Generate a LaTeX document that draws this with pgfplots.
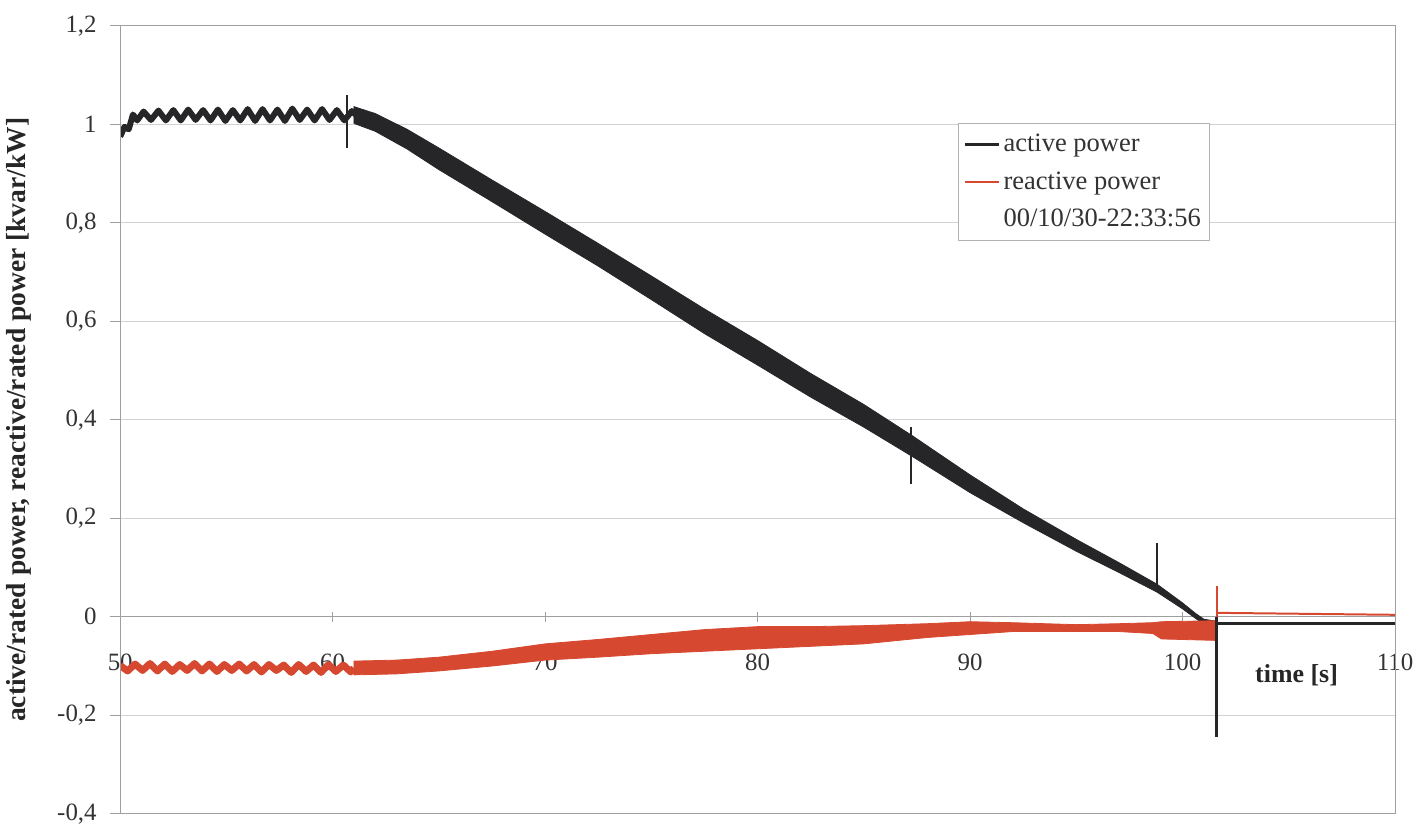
\documentclass[border=0pt]{standalone}
\usepackage{fontspec}
\setmainfont{Liberation Serif}
\usepackage{pgfplots}
\pgfplotsset{compat=1.18}
\definecolor{act}{RGB}{38,38,40}
\definecolor{rea}{RGB}{214,72,48}
\begin{document}
\begin{tikzpicture}
\path (-57.5pt,-6pt) rectangle (654pt,408.5pt);
\begin{axis}[
  at={(0,0)}, anchor=south west,
  scale only axis, width=640pt, height=395.5pt,
  xmin=50, xmax=110, ymin=-0.4, ymax=1.2,
  axis x line=middle, axis y line=left,
  axis line style={gray!75, -, line width=0.6pt},
  hide obscured x ticks=false, hide obscured y ticks=false,
  xtick={50,60,70,80,90,100,110},
  ytick={-0.4,-0.2,0,0.2,0.4,0.6,0.8,1,1.2},
  xtick align=center, ytick align=outside,
  major tick length=5pt,
  tick style={gray!75, line width=0.6pt},
  ymajorgrids, major grid style={gray!35, line width=0.6pt},
  /pgf/number format/use comma,
  /pgf/number format/assume math mode=true,
  tick label style={font=\fontsize{12.5}{14}\selectfont, text=black!80},
  xticklabel style={anchor=center, yshift=-20.5pt},
  yticklabel style={xshift=-3.3pt},
  xlabel={time [s]},
  xlabel style={font=\bfseries\fontsize{13}{15}\selectfont, at={(axis description cs:0.9227,0.1757)}, anchor=center, text=black!85},
  ylabel={active/rated power, reactive/rated power [kvar/kW]},
  ylabel style={font=\bfseries\fontsize{13.8}{16}\selectfont, at={(axis description cs:-0.0793,0.5)}, anchor=center, text=black!85},
  legend style={at={(axis description cs:0.657,0.877)}, anchor=north west, draw=gray!60, fill=white,
    font=\fontsize{13.3}{15}\selectfont, text=black!80, nodes={inner sep=1.5pt}, row sep=5.5pt, inner xsep=3pt, inner ysep=4pt},
  legend cell align=left,
  after end axis/.code={\draw[gray!75, line width=0.6pt] (rel axis cs:0,0) rectangle (rel axis cs:1,1);},
]
\addlegendimage{act, line width=1.2pt}
\addlegendentry{active power}
\addlegendimage{rea, line width=0.9pt}
\addlegendentry{reactive power}
\addlegendimage{empty legend}
\addlegendentry{00/10/30-22:33:56}

% active power: plateau
\addplot[act, line width=3pt, line join=round, forget plot] coordinates {
(50.0,0.975) (50.2,0.995) (50.4,0.99) (50.6,1.02) (50.8,1.008) (51.1,1.026) (51.45,1.009)
(51.8,1.028) (52.15,1.008) (52.5,1.029) (52.85,1.008) (53.2,1.03) (53.55,1.009) (53.9,1.029)
(54.25,1.008) (54.6,1.03) (54.95,1.007) (55.3,1.029) (55.65,1.008) (56.0,1.031) (56.35,1.007)
(56.7,1.031) (57.05,1.008) (57.4,1.03) (57.75,1.007) (58.1,1.032) (58.45,1.009) (58.8,1.03)
(59.15,1.008) (59.5,1.031) (59.85,1.009) (60.2,1.029) (60.55,1.008) (60.9,1.027) (61.2,1.015)
};
% active power: decline band
\addplot[act, fill=act, line width=0.4pt, forget plot] coordinates {
(61.0,1.036) (62.0,1.022) (63.5,0.99) (65.0,0.952) (67.5,0.887) (70.0,0.823) (72.5,0.758)
(75.0,0.692) (77.5,0.625) (80.0,0.561) (82.5,0.494) (85.0,0.431) (87.3,0.367) (90.0,0.288)
(92.5,0.219) (95.0,0.157) (97.0,0.11) (98.8,0.066) (100.0,0.028) (100.6,0.007) (101.0,-0.005)
(101.6,-0.009)
(101.6,-0.019) (101.0,-0.015) (100.6,-0.003) (100.0,0.016) (98.8,0.05) (97.0,0.09) (95.0,0.133)
(92.5,0.191) (90.0,0.252) (87.3,0.325) (85.0,0.385) (82.5,0.446) (80.0,0.511) (77.5,0.575)
(75.0,0.644) (72.5,0.712) (70.0,0.777) (67.5,0.843) (65.0,0.908) (63.5,0.95) (62.0,0.986)
(61.0,1.002)
} -- cycle;
% active power: flat end
\addplot[act, line width=1.5pt, forget plot] coordinates {(101.6,-0.014) (110,-0.014)};

% reactive power: plateau
\addplot[rea, line width=3.5pt, line join=round, forget plot] coordinates {
(50.0,-0.099) (50.35,-0.11) (50.7,-0.096) (51.05,-0.109) (51.4,-0.095) (51.75,-0.11)
(52.1,-0.096) (52.45,-0.111) (52.8,-0.097) (53.15,-0.109) (53.5,-0.095) (53.85,-0.11)
(54.2,-0.096) (54.55,-0.111) (54.9,-0.097) (55.25,-0.109) (55.6,-0.096) (55.95,-0.11)
(56.3,-0.097) (56.65,-0.112) (57.0,-0.097) (57.35,-0.109) (57.7,-0.098) (58.05,-0.113)
(58.4,-0.097) (58.75,-0.111) (59.1,-0.098) (59.45,-0.113) (59.8,-0.097) (60.15,-0.111)
(60.5,-0.098) (60.85,-0.112) (61.0,-0.104)
};
% reactive power: band
\addplot[rea, fill=rea, line width=0.4pt, forget plot] coordinates {
(61.0,-0.09) (63.0,-0.088) (65.0,-0.082) (67.5,-0.07) (70.0,-0.055) (72.5,-0.046) (75.0,-0.036)
(77.5,-0.026) (80.0,-0.02) (82.5,-0.02) (85.0,-0.018) (88.0,-0.014) (90.0,-0.01) (92.0,-0.012)
(95.0,-0.016) (97.0,-0.014) (98.6,-0.012) (99.0,-0.01) (101.6,-0.008)
(101.6,-0.048) (99.0,-0.045) (98.6,-0.034) (97.0,-0.03) (95.0,-0.03) (92.0,-0.03) (90.0,-0.036)
(88.0,-0.042) (85.0,-0.055) (82.5,-0.06) (80.0,-0.065) (77.5,-0.07) (75.0,-0.075) (72.5,-0.082)
(70.0,-0.088) (67.5,-0.1) (65.0,-0.11) (63.0,-0.116) (61.0,-0.118)
} -- cycle;
\addplot[rea, line width=1pt, forget plot] coordinates {(101.6,-0.01) (101.6,0.062)};
\addplot[rea, line width=1pt, forget plot] coordinates {(101.6,0.008) (110,0.004)};

% active power spikes
\addplot[act, line width=1pt, forget plot] coordinates {(60.67,0.951) (60.67,1.059)};
\addplot[act, line width=1pt, forget plot] coordinates {(87.2,0.269) (87.2,0.385)};
\addplot[act, line width=1pt, forget plot] coordinates {(98.8,0.05) (98.8,0.15)};
\addplot[act, line width=1.2pt, forget plot] coordinates {(101.6,0.0) (101.6,-0.245)};
\end{axis}
\end{tikzpicture}
\end{document}
